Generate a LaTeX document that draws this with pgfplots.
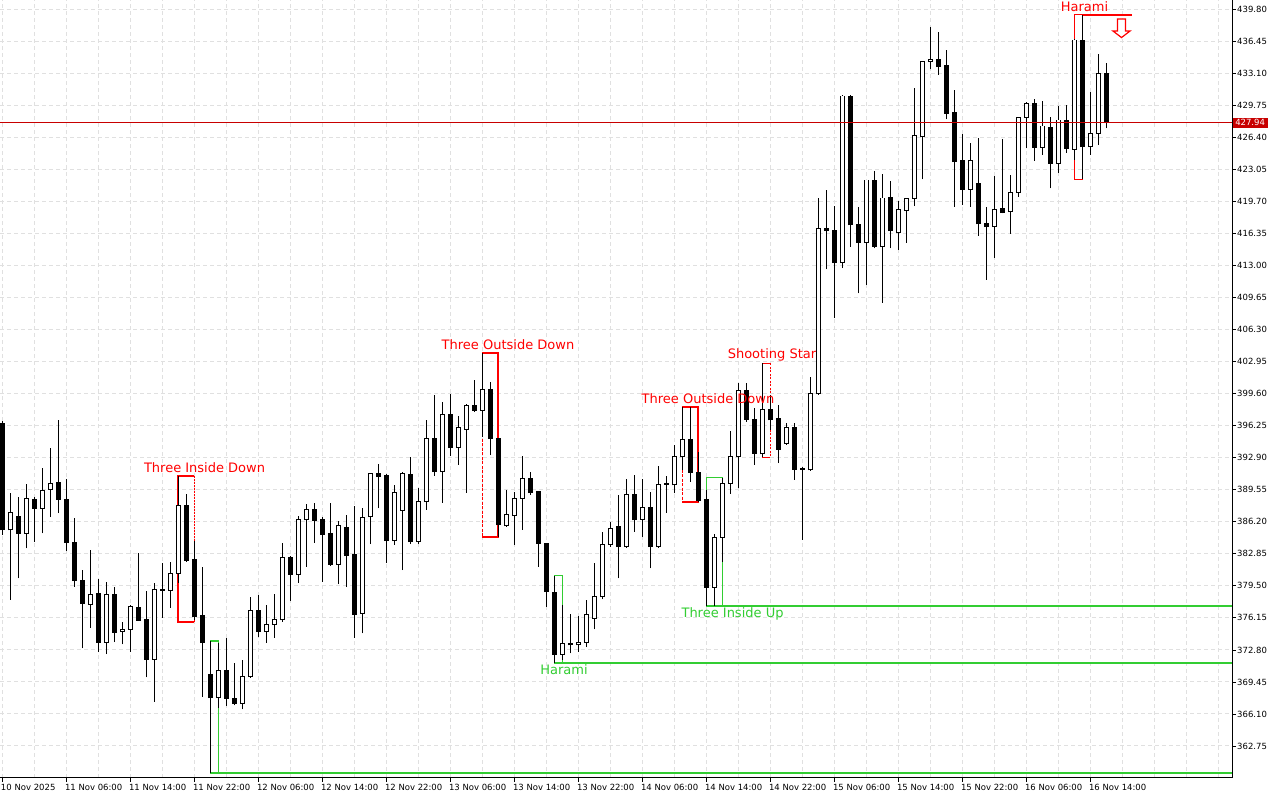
\documentclass[border=0pt]{standalone}
\usepackage{fontspec}
\setmainfont{DejaVu Sans}
\usepackage{pgfplots}
\usepackage{pgfplotstable}
\pgfplotsset{compat=1.18}
\definecolor{gridc}{RGB}{224,224,224}
\definecolor{pgreen}{RGB}{50,205,50}
\definecolor{pred}{RGB}{255,0,0}
\definecolor{pline}{RGB}{200,0,0}

\pgfplotstableread{
x o h l c
0 396.54 396.75 384.83 385.35
1 385.35 389.22 378.03 387.16
2 386.74 388.83 380.29 385.00
3 385.00 390.13 383.43 388.62
4 388.56 388.83 384.13 387.62
5 387.62 391.80 385.00 389.50
6 389.61 393.90 386.68 390.23
7 390.34 396.86 387.10 388.56
8 388.56 390.65 383.18 384.02
9 384.06 386.57 379.42 380.05
10 380.09 381.16 372.97 377.68
11 377.58 383.26 375.13 378.62
12 378.73 380.19 372.56 373.56
13 373.61 379.94 372.35 378.62
14 378.62 379.42 373.61 374.65
15 374.75 375.76 373.39 374.96
16 374.96 377.50 372.62 377.32
17 377.26 382.91 375.83 375.90
18 375.94 378.97 369.94 371.82
19 371.82 379.77 367.38 379.15
20 379.15 381.87 376.17 379.04
21 379.04 381.97 377.22 380.82
22 380.82 391.00 379.80 387.86
23 387.86 389.08 382.00 382.14
24 382.21 384.23 375.94 376.28
25 376.36 381.48 367.91 373.56
26 370.18 373.74 359.93 367.80
27 367.80 373.50 366.70 370.60
28 370.60 374.08 366.97 367.74
29 367.74 371.47 367.00 367.18
30 367.22 371.75 366.59 370.00
31 370.00 378.37 369.90 376.88
32 376.88 378.55 374.12 374.71
33 374.71 377.50 373.56 375.48
34 375.48 378.65 374.08 375.94
35 375.94 384.02 375.76 382.49
36 382.49 382.60 377.95 380.71
37 380.71 386.81 379.84 386.47
38 386.40 388.07 381.51 387.51
39 387.51 388.21 384.02 386.32
40 386.40 386.74 379.94 384.90
41 384.93 388.14 381.58 381.76
42 381.76 386.32 379.67 385.77
43 385.63 386.92 379.36 382.66
44 382.74 387.86 374.08 376.53
45 376.64 387.62 374.54 386.68
46 386.74 391.30 383.88 391.21
47 391.21 392.25 387.62 390.93
48 391.00 391.21 381.93 384.23
49 384.23 390.06 383.78 389.29
50 387.37 391.39 381.16 391.21
51 391.18 392.95 383.88 384.13
52 384.13 389.71 383.88 388.31
53 388.31 396.86 387.44 394.94
54 394.94 399.47 391.00 391.45
55 391.45 398.71 388.21 397.45
56 397.38 399.58 393.09 393.96
57 393.96 397.28 392.15 396.09
58 395.88 398.50 389.25 398.39
59 398.39 401.04 397.69 397.83
60 397.83 403.83 395.11 400.07
61 400.07 400.86 393.19 394.90
62 394.94 395.00 384.65 385.87
63 385.77 389.53 385.66 386.92
64 386.85 389.36 383.78 388.67
65 388.67 393.09 385.35 390.76
66 390.76 391.45 389.01 389.25
67 389.33 389.40 381.51 383.96
68 383.96 384.02 377.33 378.89
69 378.83 380.57 371.46 372.35
70 372.35 377.50 371.75 373.50
71 373.50 376.56 372.45 373.32
72 373.32 376.36 372.62 373.61
73 373.61 378.03 373.08 376.46
74 376.11 381.87 374.96 378.37
75 378.37 385.17 378.10 383.86
76 383.86 386.22 383.60 385.53
77 385.70 389.01 380.29 383.60
78 383.60 390.65 383.50 389.01
79 389.01 391.10 385.17 386.40
80 386.47 390.65 384.65 387.72
81 387.72 389.36 381.34 383.60
82 383.60 392.05 383.50 390.13
83 390.13 391.00 387.16 390.23
84 390.06 394.24 389.19 393.02
85 393.02 398.25 391.63 394.84
86 394.84 398.25 390.40 391.39
87 391.39 393.54 388.28 388.42
88 388.49 389.53 377.40 379.36
89 379.36 384.90 377.40 384.59
90 384.59 390.82 382.03 390.23
91 390.23 395.74 389.12 393.02
92 393.02 400.70 389.71 399.92
93 399.92 400.70 396.65 396.93
94 396.93 398.08 392.15 393.38
95 393.30 402.79 392.95 397.98
96 397.98 399.47 395.81 396.86
97 397.03 398.43 392.33 393.79
98 394.42 396.51 394.24 396.09
99 396.09 396.51 390.58 391.70
100 391.70 391.90 384.31 391.75
101 391.63 401.32 391.52 399.58
102 399.58 420.05 399.50 416.91
103 416.91 420.92 412.62 416.66
104 416.73 419.24 407.50 413.31
105 413.31 430.86 412.73 430.75
106 430.75 430.86 414.99 417.26
107 417.36 419.17 410.11 415.41
108 415.41 422.00 410.98 421.96
109 421.96 422.94 414.82 414.99
110 414.99 422.59 409.13 420.08
111 420.15 421.86 414.82 416.66
112 416.45 419.80 414.64 418.83
113 418.75 420.10 415.41 420.05
114 420.05 431.56 419.24 426.57
115 426.49 434.40 422.04 434.34
116 434.34 438.00 433.54 434.59
117 434.52 437.42 432.95 433.82
118 433.99 435.56 428.31 428.94
119 429.05 431.38 419.17 423.88
120 423.98 426.78 419.35 420.99
121 420.99 425.87 419.17 423.98
122 421.62 426.33 416.14 417.36
123 417.43 419.11 411.50 417.08
124 417.08 422.38 413.84 418.90
125 419.01 426.22 418.48 418.54
126 418.65 422.49 416.32 420.64
127 420.64 428.60 420.22 428.52
128 428.52 430.16 425.28 429.99
129 429.99 430.41 423.98 425.39
130 425.39 430.26 424.58 427.61
131 427.43 428.59 421.09 423.71
132 423.71 429.71 422.73 428.24
133 428.14 429.81 424.82 425.28
134 425.18 436.70 424.06 436.61
135 436.61 439.23 422.04 425.45
136 425.45 431.20 424.58 426.85
137 426.85 435.15 425.63 433.13
138 433.13 434.24 427.37 427.96
}\candles

\begin{document}
\begin{tikzpicture}
\begin{axis}[
  at={(0pt,0pt)}, anchor=south west,
  width=1232pt, height=778pt, scale only axis,
  xmin=-0.2875, xmax=153.7125,
  ymin=359.40, ymax=440.794,
  axis x line*=bottom, axis y line*=right,
  axis line style={black, line width=1pt},
  clip=false,
  xtick={0,8,...,136},
  xticklabels={10 Nov 2025, 11 Nov 06:00, 11 Nov 14:00, 11 Nov 22:00, 12 Nov 06:00, 12 Nov 14:00, 12 Nov 22:00, 13 Nov 06:00, 13 Nov 14:00, 13 Nov 22:00, 14 Nov 06:00, 14 Nov 14:00, 14 Nov 22:00, 15 Nov 06:00, 15 Nov 14:00, 15 Nov 22:00, 16 Nov 06:00, 16 Nov 14:00},
  minor xtick={4,12,20,28,36,44,52,60,68,76,84,92,100,108,116,124,132,140,144,148,152},
  ytick={362.75,366.10,369.45,372.80,376.15,379.50,382.85,386.20,389.55,392.90,396.25,399.60,402.95,406.30,409.65,413.00,416.35,419.70,423.05,426.40,429.75,433.10,436.45,439.80},
  yticklabels={362.75,366.10,369.45,372.80,376.15,379.50,382.85,386.20,389.55,392.90,396.25,399.60,402.95,406.30,409.65,413.00,416.35,419.70,423.05,426.40,429.75,433.10,436.45,439.80},
  tick align=outside,
  major tick length=4pt,
  minor tick length=0pt,
  tick style={black, line width=0.8pt},
  xmajorgrids, xminorgrids, ymajorgrids,
  grid style={gridc, dash pattern=on 4pt off 3pt, line width=1pt},
  minor grid style={gridc, dash pattern=on 4pt off 3pt, line width=1pt},
  ticklabel style={font=\fontsize{8.5}{10}\selectfont, text=black},
  xticklabel style={anchor=north west, inner sep=0pt, xshift=-1.5pt, yshift=-2pt},
  yticklabel style={anchor=west, inner sep=0pt, xshift=1pt},
]

% ---- pattern boxes (behind candles)
% Three Inside Down
\draw[pred, line width=2pt] (axis cs:24,391.00) -- (axis cs:22,391.00) -- (axis cs:22,375.76) -- (axis cs:24,375.76);
\draw[pred, line width=1.5pt, dash pattern=on 2pt off 1pt] (axis cs:24,391.00) -- (axis cs:24,375.76);
% Three Outside Down 1
\draw[pred, line width=2pt] (axis cs:60,403.83) -- (axis cs:62,403.83) -- (axis cs:62,384.65) -- (axis cs:60,384.65);
\draw[pred, line width=1.5pt, dash pattern=on 3pt off 1.5pt] (axis cs:60,403.83) -- (axis cs:60,384.65);
% Three Outside Down 2
\draw[pred, line width=2pt] (axis cs:85,398.25) -- (axis cs:87,398.25) -- (axis cs:87,388.28) -- (axis cs:85,388.28);
\draw[pred, line width=1.5pt, dash pattern=on 3pt off 1.5pt] (axis cs:85,398.25) -- (axis cs:85,388.28);
% Shooting Star
\draw[pred, line width=1pt] (axis cs:96,402.79) -- (axis cs:95,402.79) -- (axis cs:95,392.95) -- (axis cs:96,392.95);
\draw[pred, line width=1pt, dash pattern=on 2pt off 1.5pt] (axis cs:96,402.79) -- (axis cs:96,392.95);
% Harami (top, bearish)
\draw[pred, line width=1pt] (axis cs:135,439.23) -- (axis cs:134,439.23) -- (axis cs:134,422.04) -- (axis cs:135,422.04) -- cycle;
\draw[pred, line width=2pt] (axis cs:135,439.23) -- (axis cs:141.2,439.23);
% Harami (green, left)
\draw[pgreen, line width=1.5pt] (axis cs:26,359.93) -- (axis cs:26,373.74) -- (axis cs:27,373.74) -- (axis cs:27,359.93);
\draw[pgreen, line width=2pt] (axis cs:26,359.93) -- (axis cs:153.7125,359.93);
% Harami (green, middle)
\draw[pgreen, line width=1.5pt] (axis cs:69,371.46) -- (axis cs:69,380.57) -- (axis cs:70,380.57) -- (axis cs:70,371.46);
\draw[pgreen, line width=2pt] (axis cs:69,371.46) -- (axis cs:153.7125,371.46);
% Three Inside Up
\draw[pgreen, line width=1.5pt] (axis cs:88,377.40) -- (axis cs:88,390.82) -- (axis cs:90,390.82) -- (axis cs:90,377.40);
\draw[pgreen, line width=2pt] (axis cs:88,377.40) -- (axis cs:153.7125,377.40);

% ---- candles
\addplot[forget plot, draw=none, mark=none,
  error bars/.cd, y dir=plus, y explicit, error mark=none,
  error bar style={draw=black, line width=1pt}]
  table[x=x, y=l, y error plus expr={\thisrow{h}-\thisrow{l}}] {\candles};
\addplot[forget plot, draw=none, mark=none,
  error bars/.cd, y dir=plus, y explicit, error mark=none,
  error bar style={draw=black, line width=5pt}]
  table[x=x, y expr={min(\thisrow{o},\thisrow{c})-0.05},
        y error plus expr={abs(\thisrow{c}-\thisrow{o})+0.10}] {\candles};
\addplot[forget plot, draw=none, mark=none,
  error bars/.cd, y dir=plus, y explicit, error mark=none,
  error bar style={draw=white, line width=3pt}]
  table[x=x, y expr={min(\thisrow{o},\thisrow{c})+0.05},
        y error plus expr={(\thisrow{c}>\thisrow{o}) ? max(\thisrow{c}-\thisrow{o}-0.10,0) : 0}] {\candles};

% ---- price line and label
\draw[pline, line width=1pt] (axis cs:-0.2875,427.94) -- (axis cs:153.7125,427.94);
\node[fill=pline, text=white, anchor=west, inner xsep=2.5pt, inner ysep=2pt,
      font=\fontsize{8.5}{10}\selectfont] at (axis cs:153.78,427.94) {427.94};

% ---- pattern labels
\node[text=pred, font=\fontsize{13}{15}\selectfont] at (axis cs:25.28,391.83) {Three Inside Down};
\node[text=pred, font=\fontsize{13}{15}\selectfont] at (axis cs:63.21,404.70) {Three Outside Down};
\node[text=pred, font=\fontsize{13}{15}\selectfont] at (axis cs:88.21,399.05) {Three Outside Down};
\node[text=pred, font=\fontsize{13}{15}\selectfont] at (axis cs:96.21,403.66) {Shooting Star};
\node[text=pred, font=\fontsize{13}{15}\selectfont] at (axis cs:135.28,440.06) {Harami};
\node[text=pgreen, font=\fontsize{13}{15}\selectfont] at (axis cs:70.21,370.70) {Harami};
\node[text=pgreen, font=\fontsize{13}{15}\selectfont] at (axis cs:91.28,376.56) {Three Inside Up};

% ---- sell arrow
\node[inner sep=0pt] (arr) at (axis cs:139.9,437.86) {};
\draw[pred, fill=white, line width=1.2pt]
  ([shift={(-4pt,9pt)}]arr.center) -- ([shift={(4pt,9pt)}]arr.center)
  -- ([shift={(4pt,-3pt)}]arr.center) -- ([shift={(8.5pt,-3pt)}]arr.center)
  -- ([shift={(0pt,-9.5pt)}]arr.center) -- ([shift={(-8.5pt,-3pt)}]arr.center)
  -- ([shift={(-4pt,-3pt)}]arr.center) -- cycle;
\end{axis}
\pgfresetboundingbox
\path[use as bounding box] (0pt,-22pt) rectangle (1280pt,778pt);
\end{tikzpicture}
\end{document}
